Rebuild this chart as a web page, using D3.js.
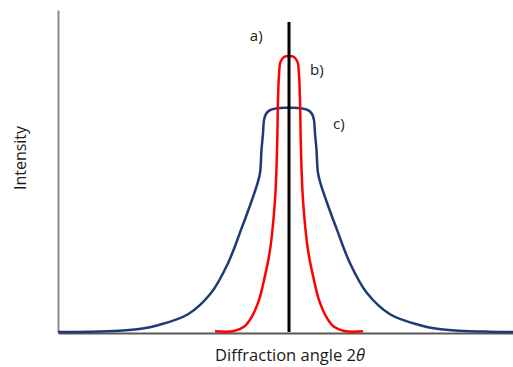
<!DOCTYPE html>
<html>
<head>
<meta charset="utf-8">
<script src="https://cdn.jsdelivr.net/npm/d3@7"></script>
<style>
  body { margin: 0; background: #fff; }
  text { font-family: "Open Sans", sans-serif; fill: #1a1a1a; }
</style>
</head>
<body>
<svg id="chart" width="513" height="367"></svg>
<script>
// peak a) : ideal crystal, delta line
var peakA = { twoTheta: 50, top: 0.963 };

// peak b) : red curve
var redTheta = [39.43, 42.14, 43.57, 44.57, 45.71, 46.43, 47.29, 48.00, 48.29, 48.43, 48.57, 48.79, 49.29, 50.00,
                50.71, 51.21, 51.43, 51.57, 51.71, 52.00, 52.71, 53.57, 54.29, 55.43, 56.43, 57.86, 60.57];
var redInt   = [0.002, 0.003, 0.016, 0.043, 0.099, 0.161, 0.255, 0.410, 0.565, 0.720, 0.798, 0.839, 0.854, 0.857,
                0.854, 0.839, 0.798, 0.720, 0.565, 0.410, 0.255, 0.161, 0.099, 0.043, 0.016, 0.003, 0.002];

// peak c) : blue curve
var blueTheta = [17.00, 21.43, 25.71, 28.86, 31.29, 35.57, 38.86, 41.29, 43.14, 44.71, 45.43, 45.86, 46.07,
                 46.29, 46.43, 46.71, 47.29, 48.29, 50.00, 51.71, 52.71, 53.29, 53.57, 53.71, 53.93, 54.14,
                 54.57, 55.29, 56.86, 58.71, 61.14, 64.43, 68.71, 71.14, 74.29, 78.57, 82.00];
var blueInt   = [0.000, 0.001, 0.004, 0.010, 0.021, 0.055, 0.121, 0.214, 0.317, 0.410, 0.457, 0.494, 0.565,
                 0.618, 0.658, 0.677, 0.689, 0.695, 0.696, 0.695, 0.689, 0.677, 0.658, 0.618, 0.565, 0.494,
                 0.457, 0.410, 0.317, 0.214, 0.121, 0.055, 0.021, 0.010, 0.004, 0.001, 0.000];

var peakLabels = ["a)", "b)", "c)"];

var svg = d3.select("#chart");

var x = d3.scaleLinear().domain([17, 82]).range([58, 513]);
var y = d3.scaleLinear().domain([0, 1]).range([332, 10]);

// axes, no ticks
svg.append("g")
    .attr("transform", "translate(58,0)")
    .call(d3.axisLeft(y).ticks(0).tickSizeOuter(0))
    .select(".domain").attr("stroke", "#8c8c8c").attr("stroke-width", 2);

svg.append("g")
    .attr("transform", "translate(0,333)")
    .call(d3.axisBottom(x).ticks(0).tickSizeOuter(0))
    .select(".domain").attr("stroke", "#595959").attr("stroke-width", 2);

var line = d3.line()
    .x(function(d) { return x(d[0]); })
    .y(function(d) { return y(d[1]); })
    .curve(d3.curveCatmullRom.alpha(0.5));

var blue = blueTheta.map(function(t, i) { return [t, blueInt[i]]; });
var red = redTheta.map(function(t, i) { return [t, redInt[i]]; });

svg.append("path")
    .datum(blue)
    .attr("d", line)
    .attr("fill", "none")
    .attr("stroke", "#1f3a78")
    .attr("stroke-width", 2.5);

svg.append("path")
    .datum(red)
    .attr("d", line)
    .attr("fill", "none")
    .attr("stroke", "#ff0000")
    .attr("stroke-width", 2.5);

svg.append("line")
    .attr("x1", x(peakA.twoTheta)).attr("x2", x(peakA.twoTheta))
    .attr("y1", y(0)).attr("y2", y(peakA.top))
    .attr("stroke", "#000")
    .attr("stroke-width", 3);

// peak labels
var labelPos = [[44.4, 0.905], [53.0, 0.797], [56.3, 0.630]];
svg.selectAll(".plabel")
    .data(peakLabels)
    .enter()
    .append("text")
    .attr("class", "plabel")
    .attr("x", function(d, i) { return x(labelPos[i][0]); })
    .attr("y", function(d, i) { return y(labelPos[i][1]); })
    .attr("font-size", "15px")
    .text(function(d) { return d; });

// axis titles
var xt = svg.append("text")
    .attr("x", 290)
    .attr("y", 361)
    .attr("text-anchor", "middle")
    .attr("font-size", "16.5px");
xt.append("tspan").text("Diffraction angle 2");
xt.append("tspan").attr("font-style", "italic").text("θ");

svg.append("text")
    .attr("transform", "translate(26,158) rotate(-90)")
    .attr("text-anchor", "middle")
    .attr("font-size", "16px")
    .text("Intensity");
</script>
</body>
</html>
